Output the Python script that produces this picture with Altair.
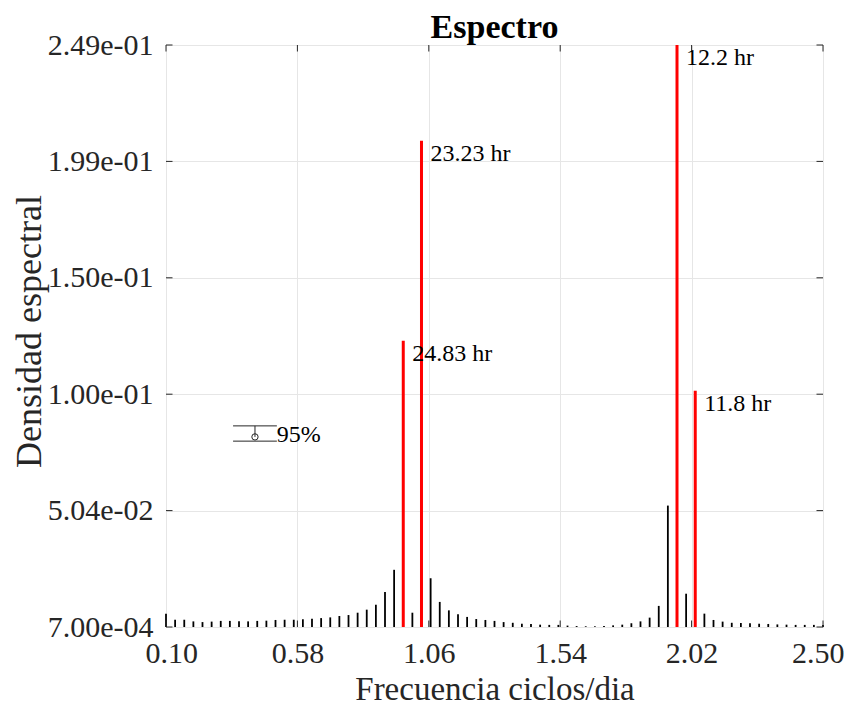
import altair as alt
import pandas as pd

# ---- data ----
black_freq = [0.1, 0.1333, 0.1667, 0.2, 0.2333, 0.2667, 0.3, 0.3333, 0.3667, 0.4,
              0.4333, 0.4667, 0.5, 0.5333, 0.5667, 0.6, 0.6333, 0.6667, 0.7, 0.7333,
              0.7667, 0.8, 0.8333, 0.8667, 0.9, 0.9333, 1.0, 1.0667, 1.1, 1.1333,
              1.1667, 1.2, 1.2333, 1.2667, 1.3, 1.3333, 1.3667, 1.4, 1.4333, 1.4667,
              1.5, 1.5333, 1.5667, 1.6, 1.6333, 1.6667, 1.7, 1.7333, 1.7667, 1.8,
              1.8333, 1.8667, 1.9, 1.9333, 2.0, 2.0667, 2.1, 2.1333, 2.1667, 2.2,
              2.2333, 2.2667, 2.3, 2.3333, 2.3667, 2.4, 2.4333, 2.4667, 2.5]
black_val = [0.0064, 0.0038, 0.0038, 0.0031, 0.0028, 0.0030, 0.0033, 0.0033, 0.0031, 0.0031,
             0.0033, 0.0034, 0.0037, 0.0038, 0.0038, 0.0040, 0.0042, 0.0045, 0.0048, 0.0054,
             0.0058, 0.0068, 0.0081, 0.0102, 0.0156, 0.0251, 0.0068, 0.0215, 0.0114, 0.0078,
             0.0061, 0.0050, 0.0041, 0.0037, 0.0033, 0.0028, 0.0025, 0.0021, 0.0020, 0.0017,
             0.0016, 0.0016, 0.0013, 0.0011, 0.0010, 0.0010, 0.0011, 0.0014, 0.0017, 0.0023,
             0.0031, 0.0047, 0.0097, 0.0525, 0.0149, 0.0064, 0.0037, 0.0030, 0.0025, 0.0024,
             0.0023, 0.0021, 0.0020, 0.0018, 0.0017, 0.0016, 0.0016, 0.0016, 0.0016]

red_freq = [0.9667, 1.0333, 1.9667, 2.0333]
red_val = [0.1228, 0.2081, 0.249, 0.1015]
red_label = ["24.83 hr", "23.23 hr", "12.2 hr", "11.8 hr"]

ci_x = [0.425]
ci_cap_left = [0.345]
ci_cap_right = [0.505]
ci_lo = [0.0800]
ci_hi = [0.0865]
ci_mid = [0.0818]
ci_label = ["95%"]

x_ticks = [0.10, 0.58, 1.06, 1.54, 2.02, 2.50]
y_ticks = [0.0007, 0.05036, 0.10002, 0.14968, 0.19934, 0.249]
Y_MIN = 0.0007
Y_MAX = 0.249
TITLE = "Espectro"

FONT = "Liberation Serif"
DARK = "#262626"
GRID = "#e6e6e6"
W, H = 657, 582

black_df = pd.DataFrame({"f": black_freq, "p": black_val})
red_df = pd.DataFrame({"f": red_freq, "p": red_val, "lab": red_label})
ci_df = pd.DataFrame({"x": ci_x, "xl": ci_cap_left, "xr": ci_cap_right,
                      "lo": ci_lo, "hi": ci_hi, "mid": ci_mid, "lab": ci_label})
xt_df = pd.DataFrame({"t": x_ticks})
yt_df = pd.DataFrame({"t": y_ticks})
title_df = pd.DataFrame({"lab": [TITLE]})

xscale = alt.Scale(domain=[0.1, 2.5], nice=False, zero=False)
yscale = alt.Scale(domain=[Y_MIN, Y_MAX], nice=False, zero=False)

xaxis = alt.Axis(values=x_ticks, format=".2f", labelFont=FONT, labelFontSize=30,
                 labelColor=DARK, labelPadding=11, labelFlush=True,
                 labelFlushOffset=21, ticks=False,
                 domain=False, grid=True, gridColor=GRID, gridWidth=1,
                 title="Frecuencia ciclos/dia", titleFont=FONT, titleFontSize=33,
                 titleFontWeight="normal", titleColor=DARK,
                 titleY=62, titleBaseline="middle")
yaxis = alt.Axis(values=y_ticks,
                 labelExpr="replace(format(datum.value, '.2e'), 'e-', 'e-0')",
                 labelFont=FONT, labelFontSize=30, labelColor=DARK, labelPadding=13,
                 labelFlush=False, ticks=False, domain=False, grid=True,
                 gridColor=GRID, gridWidth=1,
                 title="Densidad espectral", titleFont=FONT, titleFontSize=36,
                 titleFontWeight="normal", titleColor=DARK,
                 titleX=-137, titleY=286, titleAngle=270, titleAlign="center",
                 titleBaseline="middle")


def X(field):
    return alt.X(field, scale=xscale, axis=xaxis)


def Y(field):
    return alt.Y(field, scale=yscale, axis=yaxis)


black = alt.Chart(black_df).mark_rule(color="black", strokeWidth=1.8).encode(
    x=X("f:Q"), y=Y("p:Q"), y2=alt.Y2Datum(Y_MIN))

red = alt.Chart(red_df).mark_rule(color="#ff0000", strokeWidth=3).encode(
    x=X("f:Q"), y=Y("p:Q"), y2=alt.Y2Datum(Y_MIN))

red_txt = alt.Chart(red_df).mark_text(font=FONT, fontSize=24, color="black",
                                      align="left", baseline="middle", dx=9, dy=13).encode(
    x=X("f:Q"), y=Y("p:Q"), text="lab:N")

ci_caps_hi = alt.Chart(ci_df).mark_rule(color=DARK, strokeWidth=1).encode(
    x=X("xl:Q"), x2="xr:Q", y=Y("hi:Q"))
ci_caps_lo = alt.Chart(ci_df).mark_rule(color=DARK, strokeWidth=1).encode(
    x=X("xl:Q"), x2="xr:Q", y=Y("lo:Q"))
ci_vert = alt.Chart(ci_df).mark_rule(color=DARK, strokeWidth=1).encode(
    x=X("x:Q"), y=Y("hi:Q"), y2="mid:Q")
ci_pt = alt.Chart(ci_df).mark_point(shape="circle", size=40, color=DARK,
                                    filled=False, strokeWidth=1, opacity=1).encode(
    x=X("x:Q"), y=Y("mid:Q"))
ci_txt = alt.Chart(ci_df).mark_text(font=FONT, fontSize=24, color="black",
                                    align="left", baseline="middle", dx=0, dy=-2).encode(
    x=X("xr:Q"), y=Y("mid:Q"), text="lab:N")

TL = 6.5
xt_bot = alt.Chart(xt_df).mark_rule(color=DARK, strokeWidth=1).encode(
    x=X("t:Q"), y=alt.value(H), y2=alt.value(H - TL))
xt_top = alt.Chart(xt_df).mark_rule(color=DARK, strokeWidth=1).encode(
    x=X("t:Q"), y=alt.value(0), y2=alt.value(TL))
yt_left = alt.Chart(yt_df).mark_rule(color=DARK, strokeWidth=1).encode(
    y=Y("t:Q"), x=alt.value(0), x2=alt.value(TL))
yt_right = alt.Chart(yt_df).mark_rule(color=DARK, strokeWidth=1).encode(
    y=Y("t:Q"), x=alt.value(W), x2=alt.value(W - TL))

title_mark = alt.Chart(title_df).mark_text(font=FONT, fontSize=34, fontWeight="bold",
                                           color="black", align="center",
                                           baseline="alphabetic").encode(
    x=alt.value(W / 2), y=alt.value(-7), text="lab:N")

chart = alt.layer(
    black, xt_bot, xt_top, yt_left, yt_right, red, red_txt,
    ci_caps_hi, ci_caps_lo, ci_vert, ci_pt, ci_txt, title_mark,
).properties(
    width=W, height=H,
    autosize=alt.AutoSizeParams(type="none"),
    padding={"left": 158, "top": 37, "right": 22, "bottom": 80},
).configure_view(stroke=DARK, strokeWidth=1).configure(background="white")

chart.save("out.html", embed_options={"renderer": "svg", "actions": False})
